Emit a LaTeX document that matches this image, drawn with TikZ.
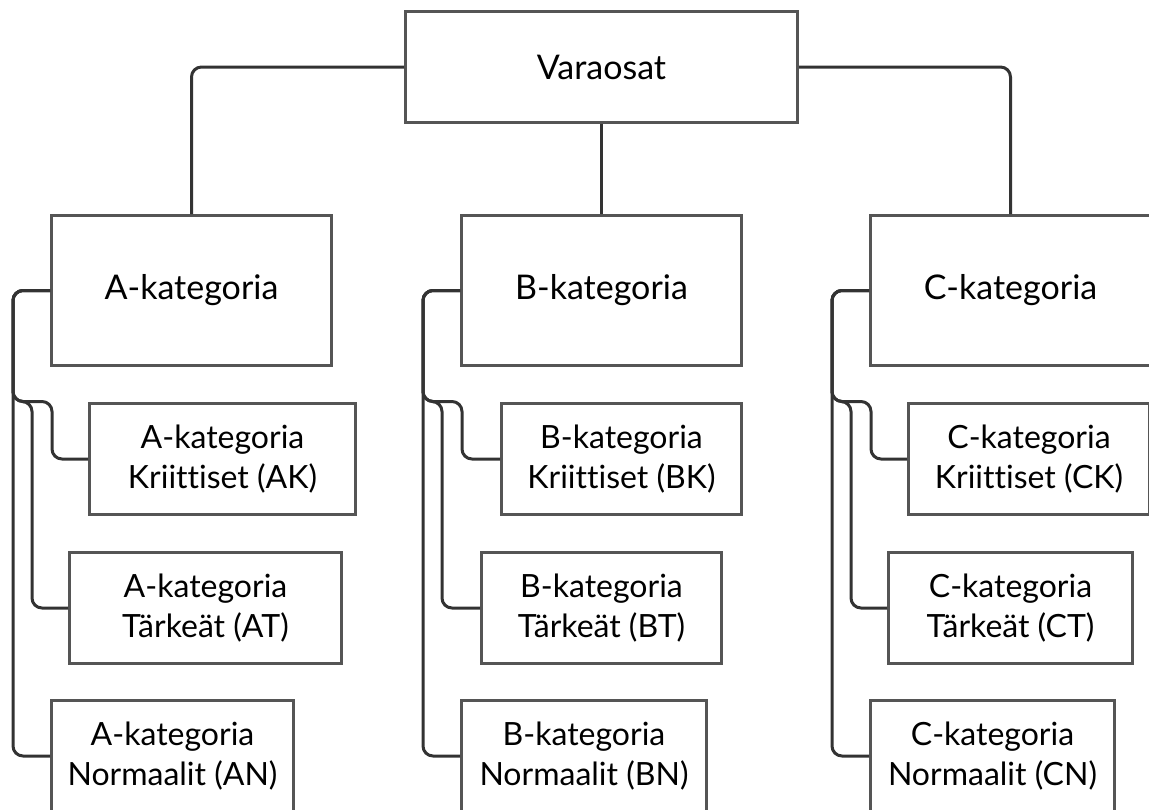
\documentclass[tikz,border=0pt]{standalone}
\usepackage{fontspec}
\setmainfont{Lato}[Ligatures=NoCommon]
\definecolor{boxgray}{HTML}{555555}
\definecolor{linkgray}{HTML}{333333}
\begin{document}
\begin{tikzpicture}[x=1pt,y=-1pt,
  box/.style={draw=boxgray, line width=3pt, fill=white, anchor=north west,
    align=center, inner sep=0pt, font=\fontsize{34}{40}\selectfont},
  catbox/.style={box, minimum width=280pt, minimum height=150pt},
  subbox/.style={box, minimum height=111pt, font=\fontsize{32}{40}\selectfont},
  link/.style={draw=linkgray, line width=3pt, rounded corners=10pt}]
\useasboundingbox (0,0) rectangle (1149,809);
\clip (0,0) rectangle (1149,809);

% root
\node[box, minimum width=392pt, minimum height=111pt] (root) at (404,10) {Varaosat};

% categories
\node[catbox] (A) at (50,214) {A-kategoria};
\node[catbox] (B) at (460,214) {B-kategoria};
\node[catbox] (C) at (869,214) {C-kategoria};

% A sub-items
\node[subbox, minimum width=266pt] (AK) at (88,402) {A-kategoria\\Kriittiset (AK)};
\node[subbox, minimum width=272pt] (AT) at (68,551) {A-kategoria\\Tärkeät (AT)};
\node[subbox, minimum width=242pt] (AN) at (50,699) {A-kategoria\\Normaalit (AN)};

% B sub-items
\node[subbox, minimum width=240pt] (BK) at (500,402) {B-kategoria\\Kriittiset (BK)};
\node[subbox, minimum width=240pt] (BT) at (480,551) {B-kategoria\\Tärkeät (BT)};
\node[subbox, minimum width=245pt] (BN) at (460,699) {B-kategoria\\Normaalit (BN)};

% C sub-items
\node[subbox, minimum width=241pt] (CK) at (907,402) {C-kategoria\\Kriittiset (CK)};
\node[subbox, minimum width=244pt] (CT) at (887,551) {C-kategoria\\Tärkeät (CT)};
\node[subbox, minimum width=244pt] (CN) at (869,699) {C-kategoria\\Normaalit (CN)};

% root to categories
\draw[link] (root.west) -| (A.north);
\draw[link] (root.east) -| (C.north);
\draw[link] (root.south) -- (B.north);

% category to sub-items
\foreach \c in {A,B,C}{
  \draw[link] (\c.west) -- ++(-37,0) |- (\c N.west);
  \draw[link] (\c.west) -- ++(-37,0) -- ++(0,111) -- ++(19,0) |- (\c T.west);
  \draw[link] (\c.west) -- ++(-37,0) -- ++(0,111) -- ++(39,0) |- (\c K.west);
}
\end{tikzpicture}
\end{document}
